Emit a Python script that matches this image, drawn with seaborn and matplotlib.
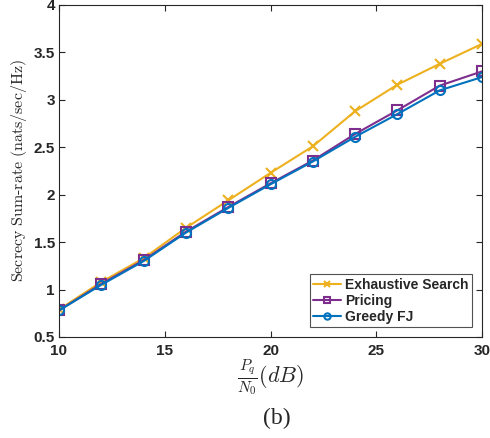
import numpy as np
import pandas as pd
import matplotlib
matplotlib.use("Agg")
import matplotlib.pyplot as plt
import seaborn as sns

# Dane
snr_db = [10, 12, 14, 16, 18, 20, 22, 24, 26, 28, 30]
exhaustive = [0.79, 1.08, 1.33, 1.65, 1.94, 2.23, 2.51, 2.88, 3.16, 3.38, 3.59]
pricing = [0.78, 1.06, 1.31, 1.61, 1.87, 2.12, 2.36, 2.64, 2.89, 3.15, 3.30]
greedy = [0.78, 1.05, 1.30, 1.60, 1.86, 2.11, 2.35, 2.61, 2.85, 3.10, 3.24]

series = {
    "Exhaustive Search": (exhaustive, "#EDB120", "x"),
    "Pricing": (pricing, "#7E2F8E", "s"),
    "Greedy FJ": (greedy, "#0072BD", "o"),
}

sns.set_style("ticks")
plt.rcParams["font.family"] = ["Liberation Sans", "DejaVu Sans"]
plt.rcParams["mathtext.fontset"] = "cm"

fig = plt.figure(figsize=(4.9, 4.38), dpi=100)
ax = fig.add_axes([0.1204, 0.2306, 0.8633, 0.758])

for name, (vals, color, marker) in series.items():
    df = pd.DataFrame({"x": snr_db, "y": vals})
    sns.lineplot(
        data=df, x="x", y="y", ax=ax, color=color, marker=marker,
        markersize=6.5, linewidth=1.5, label=name,
        markerfacecolor="none" if marker != "x" else color,
        markeredgecolor=color, markeredgewidth=1.5,
    )

ax.set_xlim(10, 30)
ax.set_ylim(0.5, 4)
ax.set_xticks([10, 15, 20, 25, 30])
ax.set_yticks([0.5, 1, 1.5, 2, 2.5, 3, 3.5, 4])
ax.set_yticklabels(["0.5", "1", "1.5", "2", "2.5", "3", "3.5", "4"])
ax.tick_params(direction="in", top=True, right=True, length=4, width=0.8,
               labelsize=11, colors="#262626")
ax.tick_params(axis="x", pad=5)
ax.tick_params(axis="y", pad=3)
for lab in ax.get_xticklabels() + ax.get_yticklabels():
    lab.set_fontweight("bold")
for sp in ax.spines.values():
    sp.set_visible(True)
    sp.set_linewidth(0.8)
    sp.set_color("#262626")

ax.set_xlabel(r"$\frac{P_q}{N_0}(dB)$", fontsize=16, labelpad=0)
ax.set_ylabel(r"$\mathrm{Secrecy\ Sum\text{-}rate\ (nats/sec/Hz)}$", fontsize=11.5, labelpad=3)

leg = ax.legend(loc="lower right", frameon=True, fancybox=False, fontsize=10,
                borderpad=0.25, labelspacing=0.15, handlelength=2.0,
                handletextpad=0.3, borderaxespad=0.7, markerscale=0.7)
leg.get_frame().set_edgecolor("#262626")
leg.get_frame().set_linewidth(0.8)
for t in leg.get_texts():
    t.set_fontweight("bold")

fig.text(0.565, 0.045, "(b)", ha="center", va="center", fontsize=17,
         family=["Liberation Serif", "DejaVu Serif"])

fig.savefig("out.png", dpi=100)
